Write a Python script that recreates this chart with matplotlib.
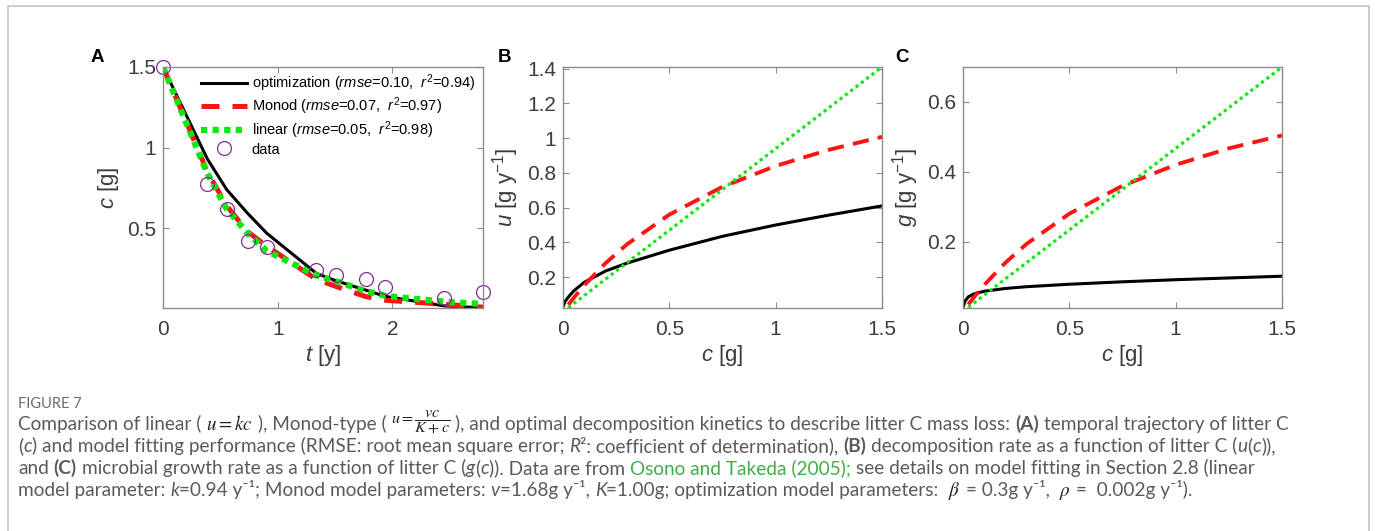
import numpy as np
import matplotlib
matplotlib.use("Agg")
import matplotlib.pyplot as plt
from matplotlib.lines import Line2D

plt.rcParams['font.family'] = ['Liberation Sans', 'DejaVu Sans']
plt.rcParams['mathtext.fontset'] = 'custom'
plt.rcParams['mathtext.rm'] = 'Liberation Sans'
plt.rcParams['mathtext.it'] = 'Liberation Sans:italic'
plt.rcParams['mathtext.bf'] = 'Liberation Sans:bold'

# ---- panel A: litter C over time ----
t_data = [0, 0.387, 0.556, 0.737, 0.905, 1.336, 1.511, 1.767, 1.939, 2.454, 2.79]
c_data = [1.5, 0.775, 0.618, 0.424, 0.387, 0.242, 0.211, 0.186, 0.135, 0.071, 0.106]
c_opt = [1.5, 0.93, 0.74, 0.594, 0.47, 0.222, 0.175, 0.118, 0.079, 0.02, 0.008]
c_monod = [1.5, 0.85, 0.64, 0.48, 0.39, 0.185, 0.14, 0.078, 0.055, 0.03, 0.012]
c_linear = [1.5, 0.84, 0.62, 0.47, 0.36, 0.21, 0.172, 0.112, 0.082, 0.046, 0.032]

# ---- panels B and C: rates vs litter C ----
c_grid = [0.0, 0.01, 0.025, 0.05, 0.1, 0.2, 0.3, 0.5, 0.75, 1.0, 1.25, 1.5]
u_opt = [0.03, 0.06, 0.085, 0.12, 0.17, 0.235, 0.28, 0.355, 0.435, 0.5, 0.557, 0.61]
g_opt = [0.012, 0.03, 0.042, 0.05, 0.058, 0.066, 0.071, 0.078, 0.085, 0.091, 0.096, 0.101]
c_monod_grid = [0.025, 0.05, 0.1, 0.2, 0.3, 0.5, 0.75, 1.0, 1.25, 1.5]
u_monod = [0.04, 0.08, 0.153, 0.28, 0.388, 0.56, 0.72, 0.84, 0.933, 1.008]
g_monod = [0.02, 0.04, 0.076, 0.14, 0.194, 0.28, 0.36, 0.42, 0.467, 0.504]
c_lin_grid = [0.025, 1.5]
u_linear = [0.0235, 1.41]
g_linear = [0.012, 0.70]

legend_labels = ['optimization ($\\mathit{rmse}$=0.10,  $\\mathit{r}^2$=0.94)',
                 'Monod ($\\mathit{rmse}$=0.07,  $\\mathit{r}^2$=0.97)',
                 'linear ($\\mathit{rmse}$=0.05,  $\\mathit{r}^2$=0.98)',
                 'data']

W, H = 1375, 531
GREEN = '#12e612'
RED = '#ff1414'
PURPLE = '#7e2f8e'
SPINE = '#8c8c8c'
TXT = '#3c3c3c'


def px_axes(left, top, right, bottom):
    return [left / W, 1 - bottom / H, (right - left) / W, (bottom - top) / H]


def style_axes(ax):
    for s in ax.spines.values():
        s.set_color(SPINE)
        s.set_linewidth(1.0)
    ax.tick_params(direction='in', top=True, right=True, length=4, width=0.8,
                   color=SPINE, labelsize=15, labelcolor=TXT)
    ax.tick_params(axis='x', pad=8.5)
    ax.tick_params(axis='y', pad=5)


fig = plt.figure(figsize=(W / 100, H / 100), dpi=100)

# panel A
axA = fig.add_axes(px_axes(163, 67, 483, 308))
axA.plot(t_data, c_opt, color='k', lw=2.2, label=legend_labels[0])
axA.plot(t_data, c_monod, color=RED, lw=3.6, dashes=(3.6, 2.6), label=legend_labels[1])
axA.plot(t_data, c_linear, color=GREEN, lw=4.5, dashes=(1, 0.85), label=legend_labels[2])
axA.plot(t_data, c_data, 'o', mfc='none', mec=PURPLE, ms=10, mew=0.9, clip_on=False,
         label=legend_labels[3])
axA.set_xlim(0, 2.79)
axA.set_ylim(0.007, 1.5)
axA.set_xticks([0, 1, 2])
axA.set_xticklabels(['0', '1', '2'])
axA.set_yticks([0.5, 1, 1.5])
axA.set_yticklabels(['0.5', '1', '1.5'])
style_axes(axA)
axA.set_xlabel('$t$ [y]', fontsize=16, color=TXT, labelpad=3)
axA.set_ylabel('$c$ [g]', fontsize=16, color=TXT, labelpad=4)
axA.legend(loc='upper left', bbox_to_anchor=(0.118, 0.977), frameon=False, fontsize=10.5,
           borderpad=0, borderaxespad=0, handlelength=3.2, handletextpad=0.3,
           labelspacing=0.12)

# panel B
axB = fig.add_axes(px_axes(563, 67, 882, 308))
axB.plot(c_grid, u_opt, color='k', lw=2.2)
axB.plot(c_monod_grid, u_monod, color=RED, lw=2.8, dashes=(4.2, 2.4))
axB.plot(c_lin_grid, u_linear, color=GREEN, lw=2.3, dashes=(1, 1.1))
axB.set_xlim(0, 1.5)
axB.set_ylim(0.022, 1.41)
axB.set_xticks([0, 0.5, 1, 1.5])
axB.set_xticklabels(['0', '0.5', '1', '1.5'])
axB.set_yticks([0.2, 0.4, 0.6, 0.8, 1.0, 1.2, 1.4])
axB.set_yticklabels(['0.2', '0.4', '0.6', '0.8', '1', '1.2', '1.4'])
style_axes(axB)
axB.set_xlabel('$c$ [g]', fontsize=16, color=TXT, labelpad=3)
axB.set_ylabel('$u$ [g y$^{-1}$]', fontsize=16, color=TXT, labelpad=4)

# panel C
axC = fig.add_axes(px_axes(963, 67, 1282, 308))
axC.plot(c_grid, g_opt, color='k', lw=2.2)
axC.plot(c_monod_grid, g_monod, color=RED, lw=2.8, dashes=(4.2, 2.4))
axC.plot(c_lin_grid, g_linear, color=GREEN, lw=2.3, dashes=(1, 1.1))
axC.set_xlim(0, 1.5)
axC.set_ylim(0.01, 0.70)
axC.set_xticks([0, 0.5, 1, 1.5])
axC.set_xticklabels(['0', '0.5', '1', '1.5'])
axC.set_yticks([0.2, 0.4, 0.6])
axC.set_yticklabels(['0.2', '0.4', '0.6'])
style_axes(axC)
axC.set_xlabel('$c$ [g]', fontsize=16, color=TXT, labelpad=3)
axC.set_ylabel('$g$ [g y$^{-1}$]', fontsize=16, color=TXT, labelpad=4)

# panel letters
for lx, letter in [(97, 'A'), (505, 'B'), (902, 'C')]:
    fig.text(lx / W, 1 - 58 / H, letter, fontsize=13.5, fontweight='bold',
             ha='center', va='center', color='k')

# outer frame (left, top, right)
fcol = '#c8c8c8'
fig.add_artist(Line2D([8 / W, 8 / W, 1369 / W, 1369 / W], [0, 1 - 6 / H, 1 - 6 / H, 0],
                      color=fcol, lw=1.3, transform=fig.transFigure))

# ---- caption ----
CAP_FONT = ['Lato', 'DejaVu Sans']
CAP_COL = '#5a5a5a'
LINK_COL = '#3fae49'
CAP_SIZE = 13.7
renderer = fig.canvas.get_renderer()


def seg_kwargs(style):
    kw = dict(fontsize=CAP_SIZE, color=CAP_COL, family=CAP_FONT)
    if style == 'b':
        kw['fontweight'] = 'bold'
    elif style == 'i':
        kw['fontstyle'] = 'italic'
    elif style == 'g':
        kw['color'] = LINK_COL
    elif style in ('m', 'f'):
        kw['math_fontfamily'] = 'stix'
        kw['color'] = '#222222'
        if style == 'f':
            kw['fontsize'] = CAP_SIZE * 0.85
    return kw


def text_width(s, kw):
    a = fig.text(0, 0, '|' + s + '|', **kw)
    b = fig.text(0, 0, '||', **kw)
    w = a.get_window_extent(renderer).width - b.get_window_extent(renderer).width
    a.remove()
    b.remove()
    return w


def draw_line(x, y, runs):
    for s, style in runs:
        kw = seg_kwargs(style)
        if style in ('m', 'f'):
            dy = 7 if style == 'f' else 0
            t = fig.text(x / W, 1 - (y - dy) / H, s, ha='left', va='baseline', **kw)
            x += t.get_window_extent(renderer).width
        else:
            t = fig.text(x / W, 1 - y / H, s.strip(' ') or ' ', ha='left', va='baseline', **kw)
            lead = len(s) - len(s.lstrip(' '))
            if lead:
                sp = text_width(' ' * lead, kw)
                t.set_x((x + sp) / W)
            x += text_width(s, kw)


fig.text(18 / W, 1 - 408 / H, 'FIGURE 7', fontsize=10.5, color='#6a6a6a', family=CAP_FONT,
         ha='left', va='baseline')

cap_lines = [
    [('Comparison of linear ( ', 'n'), ('$u = kc$', 'm'), (' ), Monod-type ( ', 'n'),
     ('$u = \\dfrac{vc}{K+c}$', 'f'),
     (' ), and optimal decomposition kinetics to describe litter C mass loss: ', 'n'),
     ('(A)', 'b'), (' temporal trajectory of litter C', 'n')],
    [('(', 'n'), ('c', 'i'), (') and model fitting performance (RMSE: root mean square error; ', 'n'),
     ('R', 'i'), ('\u00b2: coefficient of determination), ', 'n'), ('(B)', 'b'),
     (' decomposition rate as a function of litter C (', 'n'), ('u', 'i'), ('(', 'n'),
     ('c', 'i'), (')),', 'n')],
    [('and ', 'n'), ('(C)', 'b'), (' microbial growth rate as a function of litter C (', 'n'),
     ('g', 'i'), ('(', 'n'), ('c', 'i'), (')). Data are from ', 'n'),
     ('Osono and Takeda (2005);', 'g'),
     (' see details on model fitting in Section 2.8 (linear', 'n')],
    [('model parameter: ', 'n'), ('k', 'i'), ('=0.94 y\u207b\u00b9; Monod model parameters: ', 'n'),
     ('v', 'i'), ('=1.68g y\u207b\u00b9, ', 'n'), ('K', 'i'),
     ('=1.00g; optimization model parameters:  ', 'n'), ('$\\beta$', 'm'),
     (' = 0.3g y\u207b\u00b9,  ', 'n'), ('$\\rho$', 'm'), (' =  0.002g y\u207b\u00b9).', 'n')],
]
baselines = [430, 452, 474, 496]
for yb, runs in zip(baselines, cap_lines):
    draw_line(18, yb, runs)

fig.savefig('out.png', dpi=100)
